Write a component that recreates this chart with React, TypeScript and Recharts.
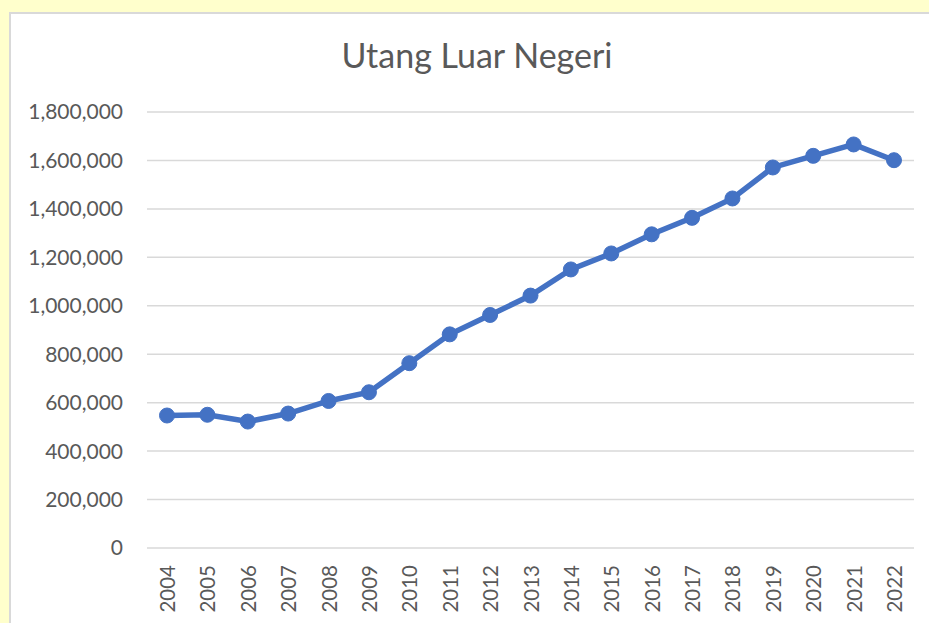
import { CartesianGrid, Line, LineChart, XAxis, YAxis } from 'recharts';

const years = [
  '2004', '2005', '2006', '2007', '2008', '2009', '2010', '2011', '2012', '2013',
  '2014', '2015', '2016', '2017', '2018', '2019', '2020', '2021', '2022',
];

const debt = [
  547000, 550000, 522000, 555000, 607000, 643000, 763000, 882000, 962000, 1042000,
  1150000, 1216000, 1295000, 1363000, 1443000, 1571000, 1619000, 1666000, 1601000,
];

const yTicks = [0, 200000, 400000, 600000, 800000, 1000000, 1200000, 1400000, 1600000, 1800000];

const title = 'Utang Luar Negeri';

const FONT = 'Lato, "Open Sans", sans-serif';
const TEXT = '#595959';

const chartData = years.map((y, i) => ({ year: y, value: debt[i] }));

function YearTick({ x, y, payload }: any) {
  return (
    <text
      x={x}
      y={y}
      transform={`rotate(-90 ${x} ${y})`}
      textAnchor="end"
      dominantBaseline="central"
      fill={TEXT}
      fontSize={20.5}
      fontFamily={FONT}
    >
      {payload.value}
    </text>
  );
}

export default function App() {
  return (
    <div
      style={{
        position: 'fixed',
        left: 0,
        top: 0,
        width: 929,
        height: 623,
        overflow: 'hidden',
        background: '#FFFFCC',
      }}
    >
      <div
        style={{
          position: 'absolute',
          left: 9,
          top: 12,
          width: 940,
          height: 640,
          background: '#fff',
          borderLeft: '2px solid #D9D9D9',
          borderTop: '2px solid #D9D9D9',
        }}
      />
      <div
        style={{
          position: 'absolute',
          left: 0,
          top: 38,
          width: 954,
          textAlign: 'center',
          fontFamily: FONT,
          fontSize: 34,
          lineHeight: '34px',
          color: TEXT,
        }}
      >
        {title}
      </div>
      <div style={{ position: 'absolute', left: 0, top: 0 }}>
        <LineChart
          width={929}
          height={623}
          data={chartData}
          margin={{ top: 112, right: 15, bottom: 0, left: 0 }}
        >
          <CartesianGrid vertical={false} stroke="#D9D9D9" strokeWidth={1.5} />
          <XAxis
            dataKey="year"
            height={75}
            axisLine={false}
            tickLine={false}
            tickSize={0}
            tickMargin={17}
            interval={0}
            padding={{ left: 20, right: 20 }}
            tick={<YearTick />}
          />
          <YAxis
            width={147}
            domain={[0, 1800000]}
            ticks={yTicks}
            interval={0}
            axisLine={false}
            tickLine={false}
            tickSize={0}
            tickMargin={24}
            tickFormatter={(v: number) => v.toLocaleString('en-US')}
            tick={{ fill: TEXT, fontSize: 21, fontFamily: FONT }}
          />
          <Line
            type="linear"
            dataKey="value"
            stroke="#4472C4"
            strokeWidth={5.5}
            dot={{ r: 7.5, fill: '#4472C4', stroke: '#4472C4', strokeWidth: 1 }}
            activeDot={false}
            isAnimationActive={false}
          />
        </LineChart>
      </div>
    </div>
  );
}
